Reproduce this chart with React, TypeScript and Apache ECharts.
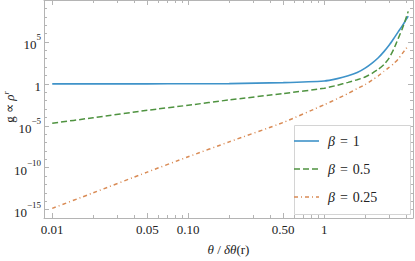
import React, { useEffect, useRef } from "react";
import * as echarts from "echarts";

// ---- data ----
const xValues = [0.01, 0.02, 0.05, 0.1, 0.2, 0.5, 1, 1.25, 1.5, 1.75, 2, 2.25, 2.5, 2.75, 3, 3.25, 3.5, 3.75, 4, 4.15];
const beta1 = [1, 1, 1, 1.02, 1.07, 1.4, 2.2, 4.2, 9, 22, 75, 300, 1.3e3, 7e3, 4e4, 2.6e5, 1.6e6, 7.8e6, 4.5e7, 1.2e8];
const beta05 = [2e-5, 9e-5, 7e-4, 2.8e-3, 1.2e-2, 7e-2, 0.3, 0.68, 1.5, 3.1, 6.5, 18, 55, 200, 1.2e3, 1.4e4, 2.5e5, 3.5e6, 7e7, 4.4e8];
const beta025 = [1.4e-15, 1e-13, 3e-11, 2e-9, 1.2e-7, 2.5e-5, 3.2e-3, 0.017, 0.072, 0.27, 0.8, 2.8, 9, 30, 90, 260, 900, 4e3, 1.6e4, 3.5e4];

const seriesNames = ["β = 1", "β = 0.5", "β = 0.25"];

const xMajorTicks = [0.01, 0.05, 0.1, 0.5, 1];
const xMajorLabels = ["0.01", "0.05", "0.10", "0.50", "1"];
const xMinorTicks = [0.02, 0.03, 0.04, 0.06, 0.07, 0.08, 0.09, 0.2, 0.3, 0.4, 0.6, 0.7, 0.8, 0.9, 2, 3, 4];
const yMajorExp = [-15, -10, -5, 0, 5];
const yMinorExp = [-16, -14, -13, -12, -11, -9, -8, -7, -6, -4, -3, -2, -1, 1, 2, 3, 4, 6, 7, 8, 9];

const X_MIN = 0.0087;
const X_MAX = 4.5;
const Y_MIN_EXP = -16;
const Y_MAX_EXP = 10;

const FONT = "Liberation Serif";
const AXIS = "#b4b4b4";
const TXT = "#222";
const COLORS = ["#3f93c9", "#4f9340", "#d98b55"];
const DASHES: any[] = ["solid", [6, 3], [4, 3, 1, 3]];
const WIDTHS = [1.6, 1.5, 1.5];

const lg = (v: number) => Math.log10(v);

export default function App() {
  const ref = useRef<HTMLDivElement>(null);
  useEffect(() => {
    document.body.style.margin = "0";
    if (!ref.current) return;
    const chart = echarts.init(ref.current, null, { renderer: "svg" });

    const xMajLog = xMajorTicks.map(lg);
    const xMinLog = xMinorTicks.map(lg);

    const xBase = {
      type: "value",
      min: lg(X_MIN),
      max: lg(X_MAX),
      splitLine: { show: false },
    };
    const yBase = {
      type: "value",
      min: Y_MIN_EXP,
      max: Y_MAX_EXP,
      splitLine: { show: false },
    };

    const xFormatter = (v: number) => {
      let best = 0;
      xMajLog.forEach((t, i) => {
        if (Math.abs(t - v) < Math.abs(xMajLog[best] - v)) best = i;
      });
      return xMajorLabels[best];
    };
    const yFormatter = (v: number) => {
      const e = Math.round(v);
      if (e === 0) return "{b|1}";
      const s = e < 0 ? "\u2212" + Math.abs(e) : String(e);
      return "{b|10}{s|" + s + "}";
    };

    const mk = (ys: number[]) => xValues.map((x, i) => [lg(x), lg(ys[i])]);
    const allSeries = [beta1, beta05, beta025];

    const legendGraphics: any[] = [
      {
        type: "rect",
        z: 3,
        shape: { x: 294.5, y: 125.5, width: 116, height: 89 },
        style: { fill: "#fff", stroke: "#d4d4d4", lineWidth: 1 },
      },
    ];
    seriesNames.forEach((name, i) => {
      const y = 141 + 28 * i;
      const parts = name.split(" = ");
      legendGraphics.push({
        type: "line",
        z: 4,
        shape: { x1: 294, y1: y, x2: 319, y2: y },
        style: { stroke: COLORS[i], lineWidth: WIDTHS[i], lineDash: DASHES[i] === "solid" ? null : DASHES[i] },
      });
      legendGraphics.push({
        type: "text",
        z: 4,
        x: 328,
        y: y,
        style: {
          text: "{i|" + parts[0] + "}{e|=}" + parts[1],
          verticalAlign: "middle",
          align: "left",
          font: "14px " + FONT,
          fill: TXT,
          rich: {
            i: { fontStyle: "italic", fontFamily: FONT, fontSize: 14, fill: TXT },
            e: { fontFamily: FONT, fontSize: 14, fill: TXT, padding: [0, 5, 0, 5] },
          },
        },
      });
    });

    const option: any = {
      animation: false,
      grid: { left: 44, top: -2, width: 369, height: 229, containLabel: false },
      xAxis: [
        {
          ...xBase,
          position: "bottom",
          axisLine: { show: true, onZero: false, lineStyle: { color: AXIS } },
          axisTick: { show: true, inside: true, length: 5, customValues: xMajLog, lineStyle: { color: AXIS } },
          axisLabel: {
            customValues: xMajLog,
            formatter: xFormatter,
            color: TXT,
            fontFamily: FONT,
            fontSize: 13,
            margin: 5,
          },
          name: "{i|θ} / {i|δθ}(r)",
          nameLocation: "middle",
          nameGap: 25,
          nameTextStyle: {
            color: TXT,
            fontFamily: FONT,
            fontSize: 13,
            rich: { i: { fontStyle: "italic", fontFamily: FONT, fontSize: 13, color: TXT } },
          },
        },
        {
          ...xBase,
          position: "bottom",
          axisLine: { show: false, onZero: false },
          axisTick: { show: true, inside: true, length: 3, customValues: xMinLog, lineStyle: { color: AXIS } },
          axisLabel: { show: false },
        },
        {
          ...xBase,
          position: "top",
          axisLine: { show: true, onZero: false, lineStyle: { color: AXIS } },
          axisTick: { show: true, inside: true, length: 5, customValues: xMajLog, lineStyle: { color: AXIS } },
          axisLabel: { show: false },
        },
        {
          ...xBase,
          position: "top",
          axisLine: { show: false, onZero: false },
          axisTick: { show: true, inside: true, length: 3, customValues: xMinLog, lineStyle: { color: AXIS } },
          axisLabel: { show: false },
        },
      ],
      yAxis: [
        {
          ...yBase,
          position: "left",
          axisLine: { show: true, onZero: false, lineStyle: { color: AXIS } },
          axisTick: { show: true, inside: true, length: 5, customValues: yMajorExp, lineStyle: { color: AXIS } },
          axisLabel: {
            customValues: yMajorExp,
            formatter: yFormatter,
            margin: 3,
            rich: {
              b: { fontFamily: FONT, fontSize: 13, color: TXT, lineHeight: 19, verticalAlign: "bottom" },
              s: { fontFamily: FONT, fontSize: 9, color: TXT, lineHeight: 9, verticalAlign: "top" },
            },
          },
        },
        {
          ...yBase,
          position: "left",
          axisLine: { show: false, onZero: false },
          axisTick: { show: true, inside: true, length: 3, customValues: yMinorExp, lineStyle: { color: AXIS } },
          axisLabel: { show: false },
        },
        {
          ...yBase,
          position: "right",
          axisLine: { show: true, onZero: false, lineStyle: { color: AXIS } },
          axisTick: { show: true, inside: true, length: 5, customValues: yMajorExp, lineStyle: { color: AXIS } },
          axisLabel: { show: false },
        },
        {
          ...yBase,
          position: "right",
          axisLine: { show: false, onZero: false },
          axisTick: { show: true, inside: true, length: 3, customValues: yMinorExp, lineStyle: { color: AXIS } },
          axisLabel: { show: false },
        },
      ],
      graphic: [
        ...legendGraphics,
        {
          type: "text",
          x: 9,
          y: 107,
          rotation: Math.PI / 2,
          style: {
            text: "g ∝ {i|ρ}{s|r}",
            align: "center",
            verticalAlign: "middle",
            font: "13px " + FONT,
            fill: TXT,
            rich: {
              i: { fontFamily: FONT, fontSize: 13, fontStyle: "italic", fill: TXT },
              s: { fontFamily: FONT, fontSize: 8, fontStyle: "italic", fill: TXT, lineHeight: 8, verticalAlign: "top" },
            },
          },
        },
      ],
      series: allSeries.map((ys, i) => ({
        name: seriesNames[i],
        type: "line",
        data: mk(ys),
        symbol: "none",
        smooth: 0.2,
        lineStyle: { color: COLORS[i], width: WIDTHS[i], type: DASHES[i] },
        itemStyle: { color: COLORS[i] },
      })),
    };
    chart.setOption(option);
    return () => chart.dispose();
  }, []);
  return <div ref={ref} style={{ width: 415, height: 261 }} />;
}
